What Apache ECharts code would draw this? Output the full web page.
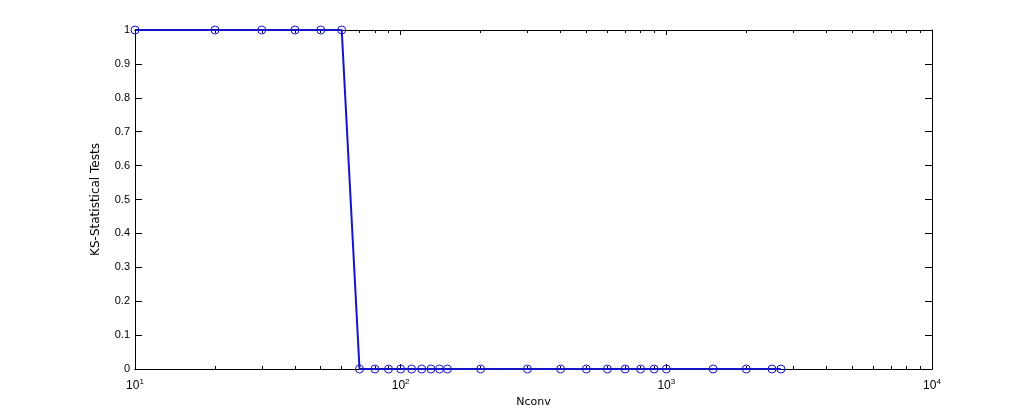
<!DOCTYPE html>
<html>
<head>
<meta charset="utf-8">
<script src="https://cdn.jsdelivr.net/npm/echarts@6/dist/echarts.min.js"></script>
<style>
  html, body { margin: 0; padding: 0; background: #fff; }
  #chart { width: 1029px; height: 416px; }
</style>
</head>
<body>
<div id="chart"></div>
<script>
// Nconv values and KS test results
var nconv = [10, 20, 30, 40, 50, 60, 70, 80, 90, 100, 110, 120, 130, 140, 150, 200, 300,
  400, 500, 600, 700, 800, 900, 1000, 1500, 2000, 2500, 2700]
var ksTest = [1, 1, 1, 1, 1, 1, 0, 0, 0, 0, 0, 0, 0, 0, 0, 0, 0,
  0, 0, 0, 0, 0, 0, 0, 0, 0, 0, 0]

var majorTicks = [10, 100, 1000, 10000]
var majorExp = { 10: '1', 100: '2', 1000: '3', 10000: '4' }
var minorTicks = [20, 30, 40, 50, 60, 70, 80, 90, 200, 300, 400, 500, 600, 700, 800, 900,
  2000, 3000, 4000, 5000, 6000, 7000, 8000, 9000]

var font = 'Liberation Sans, Arial, sans-serif'
var nameFont = 'DejaVu Sans, sans-serif'

function logAxis (pos, ticks, len, withLabel, name) {
  return {
    type: 'log',
    logBase: 10,
    position: pos,
    min: 10,
    max: 10000,
    name: name || '',
    nameLocation: 'middle',
    nameGap: 28,
    nameTextStyle: { fontFamily: nameFont, fontSize: 11, color: '#000' },
    axisLine: { show: true, lineStyle: { color: '#000', width: 1 } },
    axisTick: { show: true, inside: true, length: len, customValues: ticks, lineStyle: { color: '#000' } },
    axisLabel: {
      show: withLabel,
      customValues: withLabel ? majorTicks : undefined,
      margin: 9,
      fontFamily: font,
      fontSize: 12,
      color: '#000',
      formatter: function (v) {
        return '10{sup|' + majorExp[v] + '}'
      },
      rich: {
        sup: { fontFamily: font, fontSize: 8, color: '#000', verticalAlign: 'top', padding: [0, 0, 8, 0] }
      }
    },
    splitLine: { show: false },
    minorTick: { show: false }
  }
}

function linAxis (pos, withLabel, name) {
  return {
    type: 'value',
    position: pos,
    min: 0,
    max: 1,
    interval: 0.1,
    name: name || '',
    nameLocation: 'middle',
    nameGap: 33,
    nameTextStyle: { fontFamily: nameFont, fontSize: 12, color: '#000' },
    axisLine: { show: true, lineStyle: { color: '#000', width: 1 } },
    axisTick: { show: true, inside: true, length: 7, lineStyle: { color: '#000' } },
    axisLabel: {
      show: withLabel,
      margin: 5,
      fontFamily: font,
      fontSize: 11,
      color: '#000',
      formatter: function (v) { return String(Math.round(v * 10) / 10) }
    },
    splitLine: { show: false }
  }
}

var chart = echarts.init(document.getElementById('chart'))
chart.setOption({
  backgroundColor: '#fff',
  animation: false,
  grid: { left: 135, right: 97, top: 30, bottom: 47 },
  xAxis: [
    logAxis('bottom', majorTicks, 5, true, 'Nconv'),
    logAxis('bottom', minorTicks, 3, false),
    logAxis('top', majorTicks, 5, false),
    logAxis('top', minorTicks, 3, false)
  ],
  yAxis: [
    linAxis('left', true, 'KS-Statistical Tests'),
    linAxis('right', false)
  ],
  series: [{
    type: 'line',
    xAxisIndex: 0,
    yAxisIndex: 0,
    data: nconv.map(function (x, i) { return [x, ksTest[i]] }),
    symbol: 'circle',
    symbolSize: 8,
    showAllSymbol: true,
    clip: false,
    lineStyle: { color: '#1414c8', width: 2 },
    itemStyle: { color: 'transparent', borderColor: '#1414c8', borderWidth: 1 },
    z: 5
  }]
})
</script>
</body>
</html>
